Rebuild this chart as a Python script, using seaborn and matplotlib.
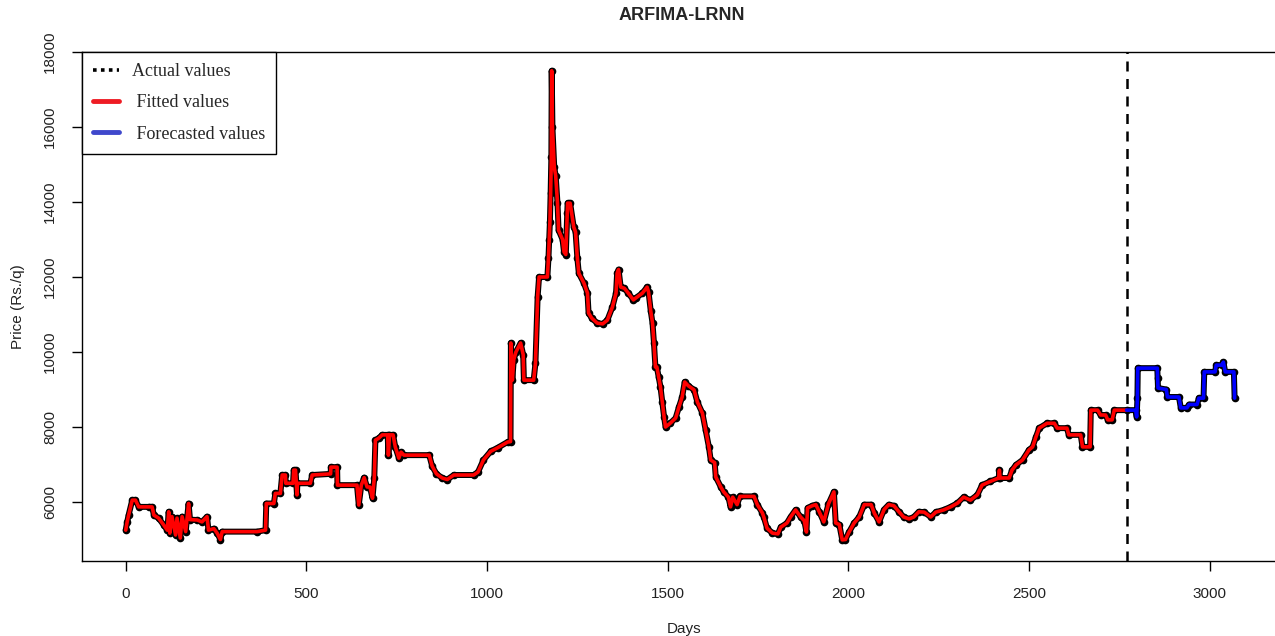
import numpy as np
import pandas as pd
import matplotlib
matplotlib.use("Agg")
import matplotlib.pyplot as plt
from matplotlib.lines import Line2D
import seaborn as sns

# --- data (breakpoints of the daily series) ---
fitted_days = [
    0, 4, 8, 18, 27, 36, 64, 73, 78, 91, 105, 115, 119, 122, 128, 138, 142, 151,
    156, 166, 174, 178, 198, 211, 225, 229, 244, 253, 262, 267, 364, 387, 389,
    410, 414, 428, 433, 442, 443, 463, 465, 470, 474, 475, 511, 516, 567, 568,
    585, 586, 640, 645, 652, 660, 668, 676, 683, 688, 691, 700, 710, 725, 727,
    730, 740, 746, 756, 762, 770, 840, 848, 860, 876, 890, 908, 963, 975, 990,
    1010, 1030, 1057, 1065, 1066, 1070, 1074, 1080, 1093, 1100, 1102, 1129,
    1134, 1140, 1144, 1167, 1170, 1172, 1174, 1176, 1178, 1179, 1181, 1186,
    1190, 1195, 1198, 1209, 1213, 1218, 1222, 1223, 1230, 1240, 1245, 1250,
    1254, 1268, 1278, 1281, 1290, 1305, 1320, 1333, 1347, 1357, 1360, 1364,
    1370, 1380, 1391, 1405, 1413, 1430, 1443, 1447, 1453, 1458, 1462, 1466,
    1470, 1475, 1480, 1485, 1490, 1494, 1507, 1522, 1531, 1540, 1547, 1557,
    1573, 1582, 1596, 1605, 1614, 1619, 1630, 1633, 1647, 1655, 1668, 1674,
    1680, 1692, 1700, 1739, 1748, 1762, 1766, 1775, 1790, 1805, 1813, 1830,
    1840, 1854, 1868, 1878, 1884, 1887, 1900, 1910, 1920, 1932, 1945, 1960,
    1965, 1975, 1983, 1992, 2002, 2016, 2030, 2044, 2063, 2072, 2085, 2099,
    2112, 2126, 2140, 2153, 2168, 2181, 2195, 2210, 2228, 2242, 2264, 2283,
    2302, 2319, 2338, 2357, 2370, 2393, 2416, 2418, 2420, 2445, 2453, 2464,
    2482, 2500, 2510, 2519, 2528, 2550, 2570, 2578, 2605, 2610, 2643, 2648,
    2669, 2671, 2690, 2698, 2712, 2718, 2730, 2736, 2770,
]
fitted_price = [
    5250, 5470, 5650, 6050, 6050, 5870, 5870, 5870, 5650, 5570, 5390, 5250,
    5740, 5170, 5610, 5120, 5570, 5040, 5610, 5210, 5960, 5530, 5520, 5470,
    5610, 5250, 5290, 5170, 5000, 5210, 5210, 5250, 5960, 5960, 6230, 6230,
    6720, 6720, 6500, 6500, 6850, 6850, 6190, 6500, 6500, 6720, 6750, 6930,
    6930, 6450, 6450, 5920, 6450, 6650, 6400, 6400, 6100, 6650, 7650, 7700,
    7790, 7790, 7250, 7790, 7790, 7470, 7170, 7330, 7250, 7250, 6960, 6750,
    6640, 6600, 6720, 6720, 6800, 7120, 7350, 7450, 7600, 7610, 10240, 9250,
    9800, 10000, 10240, 9930, 9250, 9250, 9700, 11470, 12000, 12000, 12500,
    12990, 13470, 14240, 15200, 17500, 16000, 14930, 14700, 13970, 13250,
    13000, 12670, 12600, 13700, 13970, 13970, 13330, 13200, 12500, 12100,
    11840, 11570, 11040, 10900, 10770, 10750, 10850, 11200, 11570, 12100,
    12200, 11730, 11700, 11570, 11390, 11450, 11570, 11730, 11600, 11100,
    10770, 10240, 9600, 9600, 9330, 9070, 8670, 8270, 8000, 8100, 8240, 8530,
    8800, 9200, 9100, 8990, 8670, 8370, 7920, 7470, 7120, 7050, 6670, 6400,
    6270, 6130, 5870, 6130, 5930, 6150, 6150, 5930, 5710, 5600, 5300, 5170,
    5150, 5330, 5440, 5600, 5790, 5600, 5500, 5200, 5840, 5900, 5930, 5730,
    5470, 5950, 6270, 5440, 5400, 4990, 5000, 5200, 5440, 5600, 5930, 5930,
    5700, 5470, 5800, 5930, 5900, 5740, 5600, 5550, 5600, 5740, 5730, 5600,
    5730, 5790, 5870, 5970, 6130, 6050, 6190, 6450, 6550, 6640, 6850, 6640,
    6640, 6850, 6990, 7120, 7390, 7470, 7730, 7970, 8100, 8100, 7970, 7970,
    7790, 7790, 7470, 7470, 8450, 8450, 8320, 8320, 8190, 8190, 8450, 8450,
]

forecast_days = [
    2770, 2795, 2798, 2800, 2801, 2855, 2856, 2857, 2880, 2883, 2915, 2920,
    2937, 2943, 2965, 2970, 2983, 2985, 3015, 3018, 3033, 3038, 3043, 3067,
    3069,
]
forecast_price = [
    8450, 8450, 8270, 8770, 9570, 9570, 9300, 9040, 9000, 8800, 8800, 8510,
    8510, 8600, 8600, 8770, 8770, 9470, 9470, 9650, 9650, 9730, 9470, 9470,
    8770,
]

split_day = 2770

fitted_df = pd.DataFrame({"Days": fitted_days, "Price": fitted_price})
forecast_df = pd.DataFrame({"Days": forecast_days, "Price": forecast_price})
actual_df = pd.concat([fitted_df, forecast_df.iloc[1:]], ignore_index=True)

sns.set_style("ticks")
plt.rcParams["font.family"] = ["Liberation Sans", "DejaVu Sans"]

W, H = 1275, 636
fig = plt.figure(figsize=(W / 100, H / 100), dpi=100)
# plot region in pixels: left 82, right 1287 (cut off), top 52, bottom 561
ax = fig.add_axes([82 / W, (H - 561) / H, 1205 / W, 509 / H])

# actual values: black points, drawn under the fitted / forecast lines
sns.lineplot(data=actual_df, x="Days", y="Price", ax=ax, color="black",
             linewidth=4.3, sort=False, estimator=None, legend=False)
ax.plot(actual_df["Days"], actual_df["Price"], "o", color="black",
        markersize=4.5, zorder=3)
sns.lineplot(data=fitted_df, x="Days", y="Price", ax=ax, color="red",
             linewidth=2.6, sort=False, estimator=None, legend=False, zorder=4)
sns.lineplot(data=forecast_df, x="Days", y="Price", ax=ax, color="blue",
             linewidth=2.6, sort=False, estimator=None, legend=False, zorder=4)

ax.axvline(split_day, color="black", linestyle=(0, (4, 3)), linewidth=1.8)

ax.set_xlim(-121, 3214)
ax.set_ylim(4427, 18000)
ax.set_xticks([0, 500, 1000, 1500, 2000, 2500, 3000])
ax.set_yticks([6000, 8000, 10000, 12000, 14000, 16000, 18000])

for s in ax.spines.values():
    s.set_color("black")
    s.set_linewidth(1.0)
ax.tick_params(axis="both", direction="out", length=7, width=1,
               color="black", labelsize=11, labelcolor="#222222")
ax.tick_params(axis="x", pad=12)
ax.tick_params(axis="y", labelrotation=90, pad=11)
for lab in ax.get_yticklabels():
    lab.set_verticalalignment("center")

ax.set_xlabel("Days", fontsize=11, color="#222222", labelpad=15)
ax.set_ylabel("Price (Rs./q)", fontsize=11, color="#222222")
ax.yaxis.set_label_coords(-57 / 1205, 0.5)
fig.text(682 / W, 1 - 15 / H, "ARFIMA-LRNN", ha="center", va="center",
         fontsize=13, fontweight="bold")

handles = [
    Line2D([], [], color="black", linestyle=(0, (1, 1.2)), linewidth=2.6),
    Line2D([], [], color="#ee1c24", linewidth=3.5),
    Line2D([], [], color="#3f48cc", linewidth=3.5),
]
leg = ax.legend(handles, ["Actual values", " Fitted values", " Forecasted values"],
                loc="upper left", bbox_to_anchor=(0, 1), borderaxespad=0,
                fancybox=False, framealpha=1, edgecolor="black",
                prop={"family": "Liberation Serif", "size": 13},
                handlelength=1.45, handletextpad=0.7, labelspacing=0.8,
                borderpad=0.6)
leg.get_frame().set_linewidth(1.0)

fig.savefig("out.png", dpi=100)
